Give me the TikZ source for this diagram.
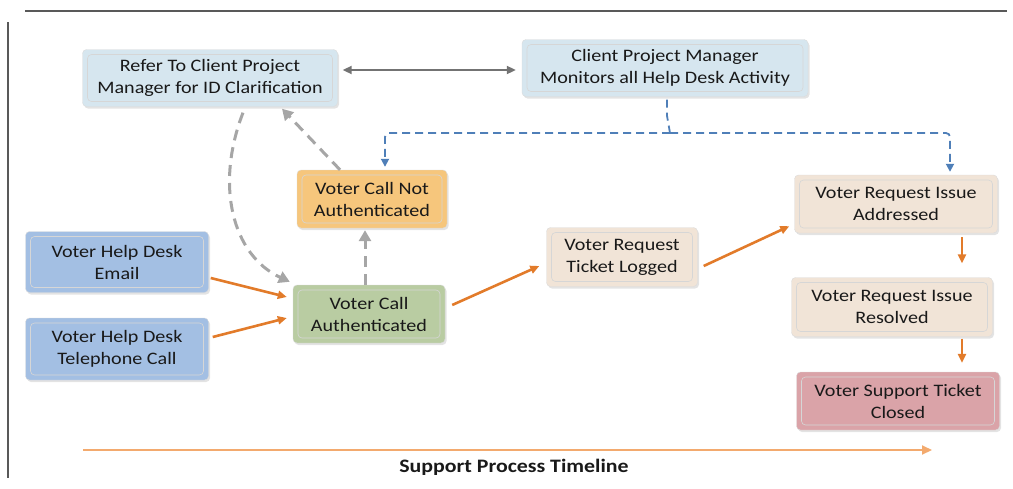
\documentclass[tikz,border=0pt]{standalone}
\usepackage{fontspec}
\setmainfont{Carlito}[FakeStretch=1.15]
\usepackage{xcolor}
\usetikzlibrary{arrows.meta, calc, positioning, shadows}
\definecolor{paleblue}{HTML}{D6E6EF}
\definecolor{midblue}{HTML}{A3BFE3}
\definecolor{softorange}{HTML}{F6C67C}
\definecolor{sage}{HTML}{B9CCA2}
\definecolor{sand}{HTML}{F1E4D7}
\definecolor{rosy}{HTML}{DAA3A8}
\definecolor{flow}{HTML}{E27B2A}
\definecolor{timeline}{HTML}{F3AA6E}
\definecolor{steel}{HTML}{4F7FB8}
\tikzset{
    box/.style={rectangle, rounded corners=4pt, draw=black!14, thin, align=center,
        inner sep=0pt, font=\fontsize{17.5}{22}\selectfont\color{black!90},
        drop shadow={opacity=0.22, shadow xshift=1.5pt, shadow yshift=-2pt},
        path picture={\draw[black!16, line width=0.6pt]
            ([shift={(5pt,-5pt)}]path picture bounding box.north west) rectangle
            ([shift={(-5pt,5pt)}]path picture bounding box.south east);}},
    palebox/.style={box, fill=paleblue},
    bluebox/.style={box, fill=midblue},
    orangebox/.style={box, fill=softorange},
    greenbox/.style={box, fill=sage},
    sandbox/.style={box, fill=sand},
    redbox/.style={box, fill=rosy},
    arrow/.style={-{Triangle[length=9pt, width=8pt]}, flow, line width=2.6pt},
    grayarrow/.style={-{Triangle[length=11pt, width=12pt]}, black!35, line width=3pt,
        dash pattern=on 11pt off 7pt},
    bluearrow/.style={-{Triangle[length=8pt, width=8pt]}, steel, line width=1.8pt,
        dash pattern=on 8pt off 5pt, rounded corners=4pt},
    linkarrow/.style={{Triangle[length=9pt, width=8pt]}-{Triangle[length=9pt, width=8pt]},
        black!55, line width=2pt},
}

\begin{document}
\begin{tikzpicture}[x=1pt, y=-1pt]
    \useasboundingbox (0,0) rectangle (1013,488);
    % frame
    \draw[black!65, line width=1.8pt] (25,11) -- (1007,11);
    \draw[black!65, line width=1.8pt] (8,22) -- (8,478);

    \node[palebox, minimum width=255pt, minimum height=57pt] (refer) at (210,78)
        {Refer To Client Project\\Manager for ID Clarification};
    \node[palebox, minimum width=286pt, minimum height=57pt] (monitor) at (665,68)
        {Client Project Manager\\Monitors all Help Desk Activity};
    \node[orangebox, minimum width=150pt, minimum height=58pt] (notauth) at (372,199)
        {Voter Call Not\\Authenticated};
    \node[bluebox, minimum width=183pt, minimum height=61pt] (email) at (117,262)
        {Voter Help Desk\\Email};
    \node[bluebox, minimum width=183pt, minimum height=62pt] (phone) at (117,349)
        {Voter Help Desk\\Telephone Call};
    \node[greenbox, minimum width=152pt, minimum height=58pt] (auth) at (369,314)
        {Voter Call\\Authenticated};
    \node[sandbox, minimum width=151pt, minimum height=59pt] (logged) at (622,257)
        {Voter Request\\Ticket Logged};
    \node[sandbox, minimum width=203pt, minimum height=58pt] (addressed) at (896,204)
        {Voter Request Issue\\Addressed};
    \node[sandbox, minimum width=201pt, minimum height=59pt] (resolved) at (892,307)
        {Voter Request Issue\\Resolved};
    \node[redbox, minimum width=203pt, minimum height=58pt] (closed) at (898,401)
        {Voter Support Ticket\\Closed};

    % timeline
    \coordinate (tlstart) at (83,450);
    \coordinate (tlend) at (932,450);
    \node[font=\fontsize{19}{22}\selectfont\bfseries, text=black!90] (tllabel) at (514,467)
        {Support Process Timeline};
    \draw[-{Triangle[length=10pt, width=9pt]}, timeline, line width=2pt] (tlstart) -- (tlend);

    % client manager link
    \draw[linkarrow] ([shift={(5pt,8pt)}]refer.east) -- ([shift={(-6pt,8pt)}]refer.east -| monitor.west);

    % monitoring (blue dashed)
    \coordinate (junc) at (670,133);
    \draw[steel, line width=1.8pt, dash pattern=on 8pt off 5pt]
        ([xshift=2pt,yshift=-3pt]monitor.south) -- ++(0,16) -- (junc);
    \draw[bluearrow] (junc) -| ([xshift=13pt,yshift=3pt]notauth.north);
    \draw[bluearrow] (junc) -| ([xshift=54pt,yshift=3pt]addressed.north);

    % authentication (gray dashed)
    \draw[grayarrow] ([xshift=-32pt]notauth.north) -- ([shift={(72pt,-2pt)}]refer.south);
    \draw[grayarrow] ([shift={(33pt,-6pt)}]refer.south) .. controls (215,185) and (232,255)
        .. ([shift={(-3pt,3pt)}]auth.north west);
    \draw[grayarrow] ([xshift=-4pt]auth.north) -- ([xshift=-4pt,yshift=-2pt]auth.north |- notauth.south);

    % main flow
    \draw[arrow] ([shift={(2pt,-16pt)}]email.east) -- ([shift={(-6pt,17pt)}]auth.west);
    \draw[arrow] ([shift={(4pt,12pt)}]phone.east) -- ([shift={(-6pt,-4pt)}]auth.west);
    \draw[arrow] ([shift={(7pt,9pt)}]auth.east) -- ([shift={(-7pt,-9pt)}]logged.west);
    \draw[arrow] ([shift={(6pt,-9pt)}]logged.east) -- ([shift={(-5pt,7pt)}]addressed.south west);
    \draw[arrow] ([shift={(66pt,-4pt)}]addressed.south) -- ([shift={(70pt,14pt)}]resolved.north);
    \draw[arrow] ([shift={(70pt,-2pt)}]resolved.south) -- ([shift={(64pt,9pt)}]closed.north);
\end{tikzpicture}
\end{document}
